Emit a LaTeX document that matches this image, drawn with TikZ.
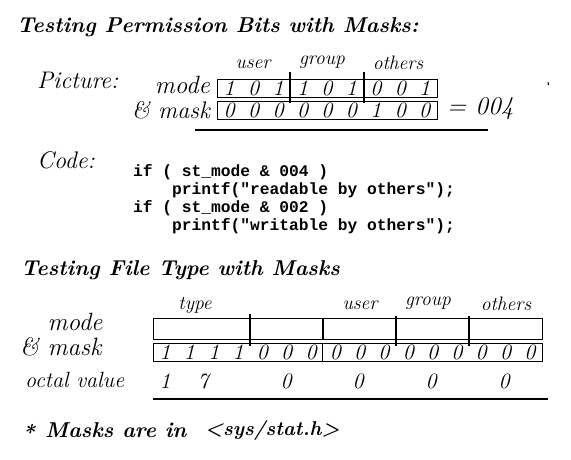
\documentclass[tikz,border=0pt]{standalone}
\usepackage{fontspec}
\newfontfamily\codefont{Liberation Mono}
\begin{document}
\begin{tikzpicture}[x=1pt,y=-1pt,
  title/.style={font=\fontsize{21.5}{21.5}\selectfont\bfseries\itshape, anchor=west, inner sep=0pt},
  hand/.style={font=\fontsize{24}{24}\selectfont\itshape, inner sep=0pt},
  big/.style={font=\fontsize{25}{25}\selectfont\itshape, inner sep=0pt},
  small/.style={font=\fontsize{19.5}{19.5}\selectfont\itshape, inner sep=0pt},
  bit/.style={font=\fontsize{22}{22}\selectfont\itshape, inner sep=0pt},
  code/.style={font=\fontsize{16.25}{16.25}\selectfont\codefont\bfseries, anchor=west, inner sep=0pt},
  bitbox/.style={draw, line width=1pt, anchor=north west, inner sep=0pt},
  divider/.style={line width=2pt},
  rule/.style={line width=2pt}]
\useasboundingbox (0,0) rectangle (571,460);

% ---- section 1 ----
\node[title] (t1) at (17,27) {Testing Permission Bits with Masks:};
\node[hand, anchor=west] (pic) at (37,80) {Picture:};
\node[big, anchor=base east] (mode1) at (210,94) {mode};
\node[big, font=\fontsize{24}{24}\selectfont\itshape, anchor=base east] (mask1) at (210,118) {\& mask};

\node[small] (u1) at (253,64) {user};
\node[small] (g1) at (322,62) {group};
\node[small] (o1) at (398,63) {others};

\node[bitbox, minimum width=220pt, minimum height=18pt] (modebox) at (217,79) {};
\node[bitbox, minimum width=220pt, minimum height=18pt] (maskbox) at (217,101) {};
\foreach \b [count=\i from 0] in {1,0,1,1,0,1,0,0,1}
  \node[bit] (mb\i) at ({217+24.44*(\i+0.5)},88) {\b};
\foreach \b [count=\i from 0] in {0,0,0,0,0,0,1,0,0}
  \node[bit] (kb\i) at ({217+24.44*(\i+0.5)},110) {\b};
\draw[divider] (290.3,72) -- (290.3,103);
\draw[divider] (363.6,72) -- (363.6,103);
\node[font=\fontsize{25.5}{25.5}\selectfont\itshape, inner sep=0pt, anchor=west] (res) at (447,108) {= 004};
\draw[rule] (195,130) -- (488,130);
\draw[line width=1pt] (548,82) -- (548.5,85);

% ---- code ----
\node[hand, anchor=west] (codelbl) at (37,160) {Code:};
\node[code] (c1) at (133,172) {if ( st\_mode \& 004 )};
\node[code] (c2) at (172,190) {printf("readable by others");};
\node[code] (c3) at (133,208) {if ( st\_mode \& 002 )};
\node[code] (c4) at (172,226) {printf("writable by others");};

% ---- section 2 ----
\node[title] (t2) at (21,270) {Testing File Type with Masks};
\node[big, anchor=base] (mode2) at (75,330) {mode};
\node[big, anchor=base west] (mask2) at (20,355) {\& mask};
\node[font=\fontsize{22}{22}\selectfont\itshape, inner sep=0pt, anchor=west] (oct) at (25,380) {octal value};

\node[small] (ty) at (195,305) {type};
\node[small] (u2) at (360,305) {user};
\node[small] (g2) at (428,303) {group};
\node[small] (o2) at (506,304) {others};

\node[bitbox, minimum width=389pt, minimum height=21pt] (topbox) at (153,318) {};
\node[bitbox, minimum width=389pt, minimum height=18pt] (bitsbox) at (153,343) {};
\foreach \b [count=\i from 0] in {1,1,1,1,0,0,0,0,0,0,0,0,0,0,0,0}
  \node[bit] (bb\i) at ({153+24.3125*(\i+0.5)},352) {\b};
\draw[divider] (249.5,314) -- (249.5,346);
\draw[divider] (322.5,318) -- (322.5,340);
\draw[line width=1pt] (322.5,343) -- (322.5,361);
\draw[divider] (395.5,316) -- (395.5,346);
\draw[divider] (468.5,316) -- (468.5,346);

\node[bit] (o0) at (165,381) {1};
\node[bit] (o1) at (203,381) {7};
\node[bit] (o2) at (286,381) {0};
\node[bit] (o3) at (358,381) {0};
\node[bit] (o4) at (431,381) {0};
\node[bit] (o5) at (504,381) {0};
\draw[line width=1.5pt] (153,399) -- (548,399);

\node[title] (star) at (22,432) {*};
\node[title] (foot) at (45,430) {Masks are in};
\node[title, font=\fontsize{20}{20}\selectfont\bfseries\itshape] (hdr) at (205,430) {<sys/stat.h>};
\end{tikzpicture}
\end{document}
